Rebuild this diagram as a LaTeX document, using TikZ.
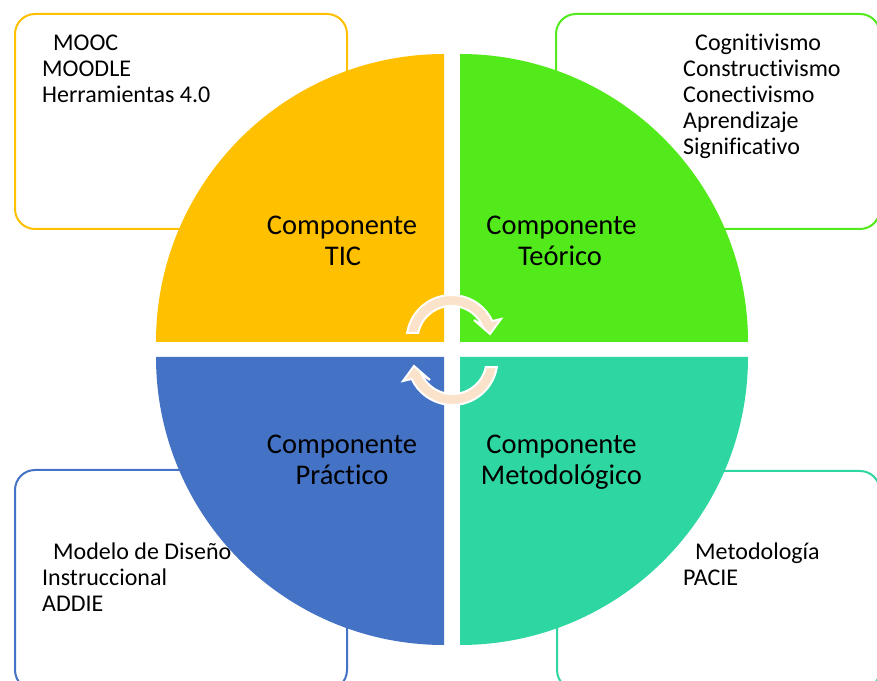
\documentclass[tikz,border=0pt]{standalone}
\usepackage{fontspec}
\setmainfont{Carlito}[Ligatures={NoCommon}]
\definecolor{cyel}{HTML}{FFC000}
\definecolor{cgrn}{HTML}{52EA1A}
\definecolor{cblu}{HTML}{4472C4}
\definecolor{ctea}{HTML}{2ED6A1}
\definecolor{cpea}{HTML}{FBE3CB}
\begin{document}
\begin{tikzpicture}[x=1pt,y=1pt,
  boxline/.style={line width=2pt, rounded corners=20pt, fill=white},
  small/.style={font=\fontsize{24}{26}\selectfont, inner sep=0pt, anchor=base west},
  big/.style={font=\fontsize{28.5}{32}\selectfont, inner sep=0pt, anchor=base},
  cyc/.style={fill=cpea, draw=white, line width=2pt, line join=miter}]
\useasboundingbox (0,0) rectangle (877,680);
\clip (0,0) rectangle (877,680);
% side boxes
\draw[boxline, draw=cyel] (15,451) rectangle (347,666);
\draw[boxline, draw=cgrn] (556,451) rectangle (880,666);
\draw[boxline, draw=cblu] (15,-10) rectangle (347,210);
\draw[boxline, draw=ctea] (557,-10) rectangle (880,209);
% box texts
\node[small] (t1) at (53,629) {MOOC};
\node[small] (t2) at (42,603) {MOODLE};
\node[small] (t3) at (42,577) {Herramientas 4.0};
\node[small] (g1) at (695,629) {Cognitivismo};
\node[small] (g2) at (683,603) {Constructivismo};
\node[small] (g3) at (683,577) {Conectivismo};
\node[small] (g4) at (683,551) {Aprendizaje};
\node[small] (g5) at (683,525) {Significativo};
\node[small] (b1) at (53,121) {Modelo de Diseño};
\node[small] (b2) at (42,95) {Instruccional};
\node[small] (b3) at (42,69) {ADDIE};
\node[small] (m1) at (695,121) {Metodología};
\node[small] (m2) at (683,95) {PACIE};
% quadrants
\fill[cyel] (444,338) -- (156,338) arc (180:90:288) -- cycle;
\fill[cgrn] (460,338) -- (460,626) arc (90:0:288) -- cycle;
\fill[cblu] (444,323) -- (444,35) arc (270:180:288) -- cycle;
\fill[ctea] (460,323) -- (748,323) arc (0:-90:288) -- cycle;
% labels
\node[big] (c1a) at (342,445) {Componente};
\node[big] (c1b) at (343,414) {TIC};
\node[big] (c2a) at (561.5,445) {Componente};
\node[big] (c2b) at (560,414) {Teórico};
\node[big] (c3a) at (342,226) {Componente};
\node[big] (c3b) at (342,195) {Práctico};
\node[big] (c4a) at (561.5,226) {Componente};
\node[big] (c4b) at (561.5,195) {Metodológico};
% circular arrows
\path[cyc] (407.1,347.0) arc (171:25:45) -- (501,361) -- (490,346) -- (474,360)
  -- (482.3,354.4) arc (25:168:34) -- cycle;
\begin{scope}[rotate around={180:(452,330)}]
\path[cyc] (407.1,347.0) arc (171:25:45) -- (501,361) -- (490,346) -- (474,360)
  -- (482.3,354.4) arc (25:168:34) -- cycle;
\end{scope}
\end{tikzpicture}
\end{document}
